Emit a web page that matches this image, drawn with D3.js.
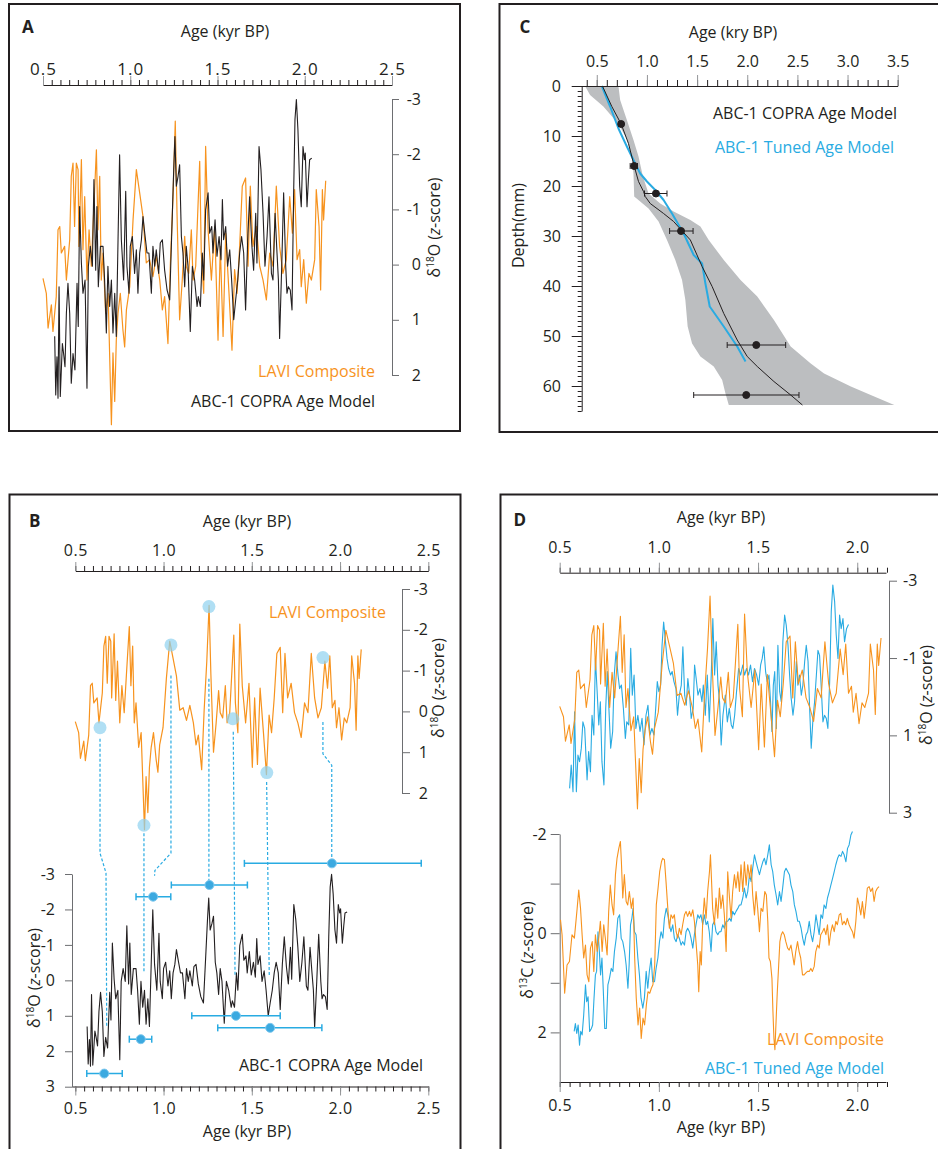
<!DOCTYPE html>
<html>
<head>
  <meta charset="utf-8">
  <script src="https://cdn.jsdelivr.net/npm/d3@7/dist/d3.min.js"></script>
  <style>
    body { margin: 0; background: #fff; }
    text { font-family: "Open Sans", "Noto Sans", sans-serif; }
  </style>
</head>
<body>
<script>
// ---------- tick labels ----------
var ageMajorAB = [0.5, 1.0, 1.5, 2.0, 2.5];
var ageMajorC = [0.5, 1.0, 1.5, 2.0, 2.5, 3.0, 3.5];
var ageMajorD = [0.5, 1.0, 1.5, 2.0];
var zTicksA = [-3, -2, -1, 0, 1, 2];
var zTicksB = [-3, -2, -1, 0, 1, 2, 3];
var zTicksD18 = [-3, -1, 1, 3];
var zTicksD13 = [-2, -1, 0, 1, 2];
var depthMajor = [0, 10, 20, 30, 40, 50, 60];

// ---------- LAVI composite d18O (age kyr BP, z-score) ----------
var lavi18O = [[0.5,0.25],[0.519,0.52],[0.529,1.15],[0.548,0.73],[0.557,1.21],[0.576,0.58],[0.586,-0.63],[0.596,-0.69],[0.605,-0.21],[0.624,-0.33],[0.634,0.28],[0.653,-0.45],[0.662,-1.6],[0.672,-1.84],[0.681,-0.69],[0.691,-1.84],[0.701,-1.72],[0.706,-0.33],[0.72,-1.9],[0.729,-0.27],[0.739,-1.23],[0.752,0.28],[0.764,-0.63],[0.777,0.03],[0.79,-0.93],[0.806,-2.08],[0.815,-0.63],[0.825,-1.6],[0.834,0.28],[0.844,-0.21],[0.859,0.88],[0.873,0.52],[0.892,2.9],[0.901,1.6],[0.911,2.48],[0.92,1.37],[0.93,0.88],[0.943,0.52],[0.958,1.18],[0.968,1.49],[0.978,0.82],[0.997,0.4],[1.016,-0.81],[1.035,-1.72],[1.054,-1.3],[1.073,-0.87],[1.092,-0.03],[1.111,-0.09],[1.13,0.22],[1.149,-0.15],[1.169,0.28],[1.184,0.82],[1.197,0.58],[1.216,1.43],[1.23,-0.03],[1.245,-1.23],[1.258,-2.6],[1.268,-0.93],[1.283,1.0],[1.298,0.28],[1.312,-0.51],[1.321,0.03],[1.335,0.16],[1.35,-0.63],[1.36,0.28],[1.375,0.03],[1.398,-1.87],[1.407,-0.21],[1.421,0.52],[1.432,-2.14],[1.446,-0.63],[1.465,0.28],[1.484,-0.69],[1.503,1.37],[1.516,-0.33],[1.532,1.3],[1.547,-0.57],[1.566,0.52],[1.583,1.55],[1.598,0.09],[1.612,0.52],[1.627,-0.33],[1.642,-1.42],[1.661,-1.57],[1.675,0.03],[1.688,-1.42],[1.703,-0.33],[1.723,-0.69],[1.742,0.03],[1.761,0.28],[1.78,0.64],[1.799,-0.21],[1.818,0.03],[1.837,-1.42],[1.856,-0.33],[1.875,0.16],[1.894,-0.09],[1.914,-1.23],[1.929,-0.57],[1.942,-1.36],[1.956,-0.09],[1.971,-0.27],[1.98,0.4],[1.994,-0.09],[2.009,0.7],[2.024,0.16],[2.038,0.28],[2.057,-0.09],[2.066,-1.36],[2.082,-0.69],[2.091,0.46],[2.101,-1.36],[2.108,-0.81],[2.12,-1.52]];

// ---------- ABC-1 d18O on the COPRA age model ----------
var copra18O = [[0.567,1.3],[0.573,2.36],[0.58,1.67],[0.586,2.42],[0.592,0.4],[0.599,2.39],[0.611,1.43],[0.618,1.61],[0.626,1.85],[0.634,0.88],[0.643,0.34],[0.653,0.88],[0.662,2.15],[0.672,1.61],[0.683,1.91],[0.695,0.34],[0.702,1.12],[0.71,-1.05],[0.72,-0.03],[0.729,0.52],[0.741,0.28],[0.752,2.24],[0.76,0.03],[0.771,-0.33],[0.783,0.03],[0.792,-1.54],[0.802,0.1],[0.809,-1.05],[0.817,0.4],[0.829,-0.33],[0.844,-0.33],[0.853,0.28],[0.863,1.24],[0.872,0.03],[0.882,0.76],[0.892,0.28],[0.901,1.24],[0.911,0.52],[0.92,1.3],[0.93,-0.45],[0.939,-1.99],[0.949,-0.45],[0.962,0.28],[0.974,-1.33],[0.981,0.03],[0.993,0.52],[1.0,-0.33],[1.012,-0.51],[1.025,0.16],[1.035,-0.27],[1.044,0.52],[1.054,-0.21],[1.064,-0.45],[1.073,-0.87],[1.083,-0.57],[1.096,-0.21],[1.107,-0.21],[1.121,0.52],[1.13,-0.33],[1.14,0.03],[1.149,-0.27],[1.163,0.16],[1.172,-0.39],[1.184,-0.45],[1.197,0.1],[1.211,0.46],[1.226,0.64],[1.239,-0.69],[1.249,-1.72],[1.256,-2.32],[1.264,-1.42],[1.274,-1.6],[1.283,-1.81],[1.293,-0.51],[1.302,-0.21],[1.312,0.4],[1.321,-0.33],[1.331,0.03],[1.344,1.21],[1.356,0.03],[1.369,0.28],[1.383,0.76],[1.39,0.58],[1.402,0.76],[1.413,-0.21],[1.421,0.28],[1.432,-0.99],[1.446,-1.3],[1.455,-0.57],[1.467,-0.69],[1.474,-0.21],[1.486,-0.81],[1.497,-0.15],[1.509,-0.51],[1.52,-0.09],[1.528,-1.18],[1.535,-0.45],[1.547,-0.69],[1.558,0.03],[1.57,-0.27],[1.581,0.28],[1.593,1.0],[1.604,0.64],[1.616,0.28],[1.627,-0.21],[1.638,-0.51],[1.65,-0.21],[1.661,0.82],[1.673,-0.45],[1.684,-1.23],[1.696,-0.39],[1.707,0.1],[1.719,-0.93],[1.726,-0.03],[1.738,-2.14],[1.749,-1.72],[1.761,-0.93],[1.772,0.03],[1.784,-0.51],[1.795,-1.23],[1.809,0.16],[1.818,0.28],[1.83,-0.93],[1.841,-0.21],[1.849,0.28],[1.856,1.34],[1.868,0.03],[1.879,-1.3],[1.891,0.03],[1.898,0.52],[1.906,0.4],[1.917,0.46],[1.927,0.82],[1.936,-1.23],[1.944,-2.63],[1.952,-2.99],[1.961,-2.44],[1.971,-1.42],[1.98,-1.05],[1.99,-2.14],[1.998,-1.9],[2.003,-2.02],[2.013,-1.05],[2.021,-1.54],[2.028,-1.9],[2.04,-1.93]];

// ---------- ABC-1 d18O on the tuned age model ----------
var tuned18O = [[0.55,2.37],[0.558,1.77],[0.567,2.46],[0.575,0.39],[0.584,2.46],[0.592,1.51],[0.6,1.68],[0.609,1.33],[0.617,0.65],[0.626,0.82],[0.638,2.15],[0.646,1.42],[0.655,1.94],[0.663,0.48],[0.672,0.99],[0.68,-0.99],[0.688,-0.21],[0.697,0.73],[0.705,0.13],[0.713,1.68],[0.723,2.28],[0.732,0.3],[0.74,-0.65],[0.748,0.3],[0.757,1.33],[0.767,0.9],[0.775,-0.56],[0.784,-1.16],[0.794,-0.56],[0.802,-0.21],[0.811,-0.3],[0.821,0.3],[0.831,1.08],[0.838,0.65],[0.848,0.73],[0.858,-1.25],[0.866,-0.04],[0.875,-0.56],[0.884,0.82],[0.894,0.48],[0.905,0.9],[0.915,0.56],[0.925,1.25],[0.935,0.48],[0.945,0.22],[0.955,0.99],[0.965,0.82],[0.975,0.99],[0.985,0.22],[0.992,-0.39],[1.0,-0.13],[1.009,-0.3],[1.016,-1.33],[1.024,-1.93],[1.032,-1.5],[1.041,-0.99],[1.049,-0.73],[1.059,-0.56],[1.067,-0.65],[1.076,-0.39],[1.086,-0.21],[1.094,0.48],[1.103,-0.04],[1.113,-0.3],[1.121,-1.29],[1.13,-0.04],[1.138,0.22],[1.146,-0.47],[1.155,-0.04],[1.163,0.56],[1.173,0.3],[1.18,-0.82],[1.188,-0.47],[1.197,-0.04],[1.207,-0.21],[1.217,0.13],[1.224,-0.3],[1.234,0.48],[1.244,-0.56],[1.254,0.65],[1.264,-0.56],[1.272,-2.02],[1.281,-0.56],[1.289,-1.42],[1.298,-0.3],[1.306,0.13],[1.314,1.25],[1.323,0.48],[1.335,-0.04],[1.345,0.65],[1.355,0.3],[1.365,0.73],[1.373,0.82],[1.382,0.48],[1.39,-0.04],[1.402,-0.73],[1.412,-0.56],[1.423,-0.82],[1.432,-0.56],[1.442,-0.73],[1.452,-0.56],[1.462,-0.82],[1.472,-0.39],[1.482,-0.73],[1.493,-0.56],[1.503,-0.3],[1.513,-0.82],[1.521,-0.99],[1.529,-1.29],[1.538,-0.65],[1.546,-0.39],[1.555,-0.56],[1.563,0.13],[1.57,0.9],[1.577,-0.3],[1.584,-0.65],[1.592,0.82],[1.6,-1.33],[1.609,-0.13],[1.617,0.13],[1.625,-1.42],[1.634,-2.11],[1.642,-1.85],[1.651,-1.33],[1.659,-0.56],[1.667,0.04],[1.676,0.48],[1.684,0.13],[1.693,-0.91],[1.701,-0.3],[1.709,-0.56],[1.718,-0.04],[1.726,-0.3],[1.735,-0.91],[1.743,-1.33],[1.752,-0.91],[1.76,0.3],[1.768,1.33],[1.777,0.56],[1.785,0.13],[1.794,-0.56],[1.802,-1.2],[1.81,-1.07],[1.818,-0.3],[1.827,0.65],[1.835,0.48],[1.844,0.56],[1.852,0.82],[1.861,-0.39],[1.869,-2.2],[1.877,-2.89],[1.886,-2.46],[1.894,-1.6],[1.903,-0.99],[1.911,-2.11],[1.919,-1.76],[1.928,-2.02],[1.936,-1.42],[1.946,-1.76],[1.956,-1.87]];

// ---------- d13C ----------
var lavi13C = [[0.504,-0.27],[0.512,0.03],[0.525,1.21],[0.537,0.64],[0.549,0.57],[0.562,0.03],[0.574,0.1],[0.588,-0.5],[0.596,-0.87],[0.605,-0.5],[0.613,0.03],[0.621,0.5],[0.63,0.24],[0.638,0.84],[0.647,0.98],[0.655,0.3],[0.664,0.17],[0.672,0.77],[0.68,0.03],[0.689,0.37],[0.697,0.1],[0.705,-0.24],[0.714,0.37],[0.722,-0.17],[0.73,0.1],[0.739,0.44],[0.747,-0.44],[0.755,-0.97],[0.764,-0.57],[0.772,-0.37],[0.781,-1.18],[0.789,-1.51],[0.798,-1.71],[0.806,-1.85],[0.811,-1.44],[0.818,-0.71],[0.826,-1.18],[0.835,-0.64],[0.843,-0.57],[0.851,-0.84],[0.861,-0.5],[0.87,-0.71],[0.878,0.5],[0.886,1.31],[0.895,1.85],[0.903,1.51],[0.911,2.12],[0.92,1.71],[0.928,1.85],[0.937,1.44],[0.945,1.18],[0.954,1.21],[0.962,1.11],[0.97,1.04],[0.979,0.64],[0.987,-0.57],[0.996,-0.91],[1.004,-1.24],[1.013,-1.44],[1.019,-1.51],[1.028,-1.48],[1.036,-1.04],[1.045,-0.5],[1.053,-0.1],[1.061,-0.37],[1.07,-0.3],[1.078,-0.37],[1.087,-0.03],[1.095,0.1],[1.103,-0.1],[1.112,0.03],[1.12,-0.17],[1.129,-0.37],[1.137,-0.44],[1.145,-0.34],[1.154,-0.44],[1.162,-0.34],[1.171,-0.47],[1.179,-0.24],[1.187,0.17],[1.196,0.64],[1.201,1.18],[1.208,0.37],[1.214,0.64],[1.221,-0.24],[1.229,-0.71],[1.238,-0.3],[1.246,-0.84],[1.255,-1.24],[1.26,-1.58],[1.265,-1.11],[1.271,-0.5],[1.28,-0.17],[1.288,-0.71],[1.297,-0.3],[1.305,-0.91],[1.313,-0.5],[1.322,-0.77],[1.33,-0.37],[1.339,0.37],[1.347,-1.24],[1.356,-0.71],[1.364,-0.3],[1.372,-0.84],[1.381,-1.18],[1.389,-0.91],[1.398,-1.24],[1.406,-0.84],[1.414,-1.38],[1.423,-0.84],[1.431,-1.44],[1.44,-0.97],[1.448,-1.38],[1.457,-1.11],[1.465,-1.38],[1.473,-0.77],[1.482,-0.37],[1.49,-0.84],[1.498,-0.5],[1.507,-0.03],[1.515,-0.5],[1.524,-0.44],[1.534,-0.84],[1.542,-0.77],[1.549,-0.24],[1.555,0.5],[1.562,0.57],[1.57,0.91],[1.575,1.58],[1.58,2.12],[1.585,2.35],[1.59,1.85],[1.597,1.18],[1.604,0.64],[1.61,0.17],[1.617,0.03],[1.624,-0.03],[1.632,0.03],[1.64,0.17],[1.649,0.3],[1.657,0.34],[1.666,0.24],[1.674,0.44],[1.682,0.64],[1.69,0.37],[1.699,0.17],[1.707,0.37],[1.715,0.5],[1.724,0.84],[1.732,0.84],[1.741,0.8],[1.749,0.77],[1.758,0.77],[1.766,0.71],[1.774,0.77],[1.783,0.67],[1.791,0.37],[1.8,0.24],[1.808,0.3],[1.816,0.03],[1.825,-0.03],[1.833,-0.1],[1.842,0.03],[1.85,-0.17],[1.858,0.24],[1.867,-0.03],[1.875,-0.17],[1.884,-0.03],[1.892,-0.24],[1.9,-0.17],[1.909,-0.37],[1.917,-0.4],[1.925,-0.17],[1.934,-0.24],[1.942,-0.17],[1.95,-0.3],[1.959,-0.17],[1.967,-0.1],[1.976,-0.03],[1.984,0.1],[1.993,-0.24],[2.001,-0.71],[2.009,-0.57],[2.018,-0.37],[2.026,-0.64],[2.035,-0.3],[2.043,-0.57],[2.051,-0.91],[2.06,-0.94],[2.068,-0.84],[2.077,-0.91],[2.085,-0.64],[2.093,-0.84],[2.102,-0.91],[2.11,-0.94]];

var tuned13C = [[0.573,1.98],[0.579,1.82],[0.586,2.02],[0.593,1.85],[0.6,2.26],[0.606,1.98],[0.613,2.05],[0.621,1.65],[0.63,1.04],[0.636,1.38],[0.643,1.28],[0.651,1.98],[0.66,1.92],[0.666,1.85],[0.673,1.31],[0.68,0.84],[0.686,0.77],[0.693,-0.03],[0.7,0.37],[0.706,0.84],[0.713,0.5],[0.72,1.18],[0.727,1.92],[0.735,1.92],[0.743,1.04],[0.751,0.91],[0.76,0.71],[0.768,0.77],[0.776,0.37],[0.785,0.1],[0.793,-0.3],[0.802,-0.37],[0.81,0.1],[0.818,0.17],[0.827,0.37],[0.835,0.64],[0.844,1.11],[0.85,0.64],[0.857,-0.17],[0.864,-0.3],[0.87,-0.5],[0.877,-0.03],[0.885,0.03],[0.894,0.5],[0.902,0.84],[0.91,1.31],[0.919,1.51],[0.927,1.31],[0.936,0.77],[0.944,1.11],[0.952,0.77],[0.961,0.5],[0.969,0.98],[0.978,0.98],[0.986,0.71],[0.995,0.5],[1.003,0.17],[1.011,-0.03],[1.02,0.1],[1.028,-0.3],[1.037,-0.5],[1.045,-0.37],[1.053,-0.17],[1.061,-0.03],[1.07,-0.17],[1.078,0.1],[1.087,0.17],[1.095,0.03],[1.103,0.1],[1.112,0.24],[1.12,0.17],[1.129,0.24],[1.137,-0.03],[1.145,-0.1],[1.154,-0.03],[1.162,0.1],[1.171,0.3],[1.179,0.03],[1.187,-0.17],[1.196,-0.37],[1.204,-0.3],[1.212,-0.37],[1.221,-0.17],[1.229,-0.37],[1.238,-0.17],[1.246,-0.24],[1.254,-0.03],[1.263,0.37],[1.271,-0.17],[1.28,-0.24],[1.288,-0.03],[1.297,0.03],[1.305,-0.03],[1.313,-0.03],[1.322,-0.17],[1.33,-0.1],[1.339,-0.24],[1.347,-0.24],[1.356,-0.3],[1.364,-0.24],[1.372,-0.44],[1.381,-0.37],[1.389,-0.44],[1.398,-0.5],[1.406,-0.57],[1.414,-0.57],[1.423,-0.71],[1.431,-0.91],[1.44,-0.71],[1.448,-0.84],[1.457,-1.18],[1.465,-1.04],[1.473,-1.31],[1.482,-1.58],[1.49,-1.44],[1.498,-1.31],[1.507,-1.18],[1.515,-1.31],[1.524,-1.44],[1.532,-1.51],[1.54,-1.38],[1.549,-1.58],[1.557,-1.78],[1.566,-1.38],[1.574,-1.24],[1.582,-0.97],[1.591,-0.77],[1.599,-0.57],[1.608,-0.84],[1.616,-0.64],[1.624,-0.91],[1.633,-1.24],[1.641,-1.31],[1.65,-1.24],[1.658,-1.18],[1.666,-0.97],[1.675,-0.84],[1.683,-0.57],[1.691,-0.44],[1.7,-0.24],[1.708,-0.24],[1.717,-0.1],[1.725,0.1],[1.733,0.24],[1.742,0.03],[1.75,-0.03],[1.758,-0.24],[1.767,0.03],[1.775,0.17],[1.783,-0.03],[1.792,-0.37],[1.8,-0.17],[1.808,0.03],[1.817,-0.37],[1.825,-0.3],[1.833,-0.57],[1.842,-0.5],[1.85,-0.71],[1.859,-0.84],[1.867,-0.97],[1.876,-1.11],[1.884,-1.24],[1.892,-1.38],[1.901,-1.51],[1.909,-1.58],[1.918,-1.55],[1.926,-1.65],[1.934,-1.58],[1.943,-1.44],[1.951,-1.71],[1.959,-1.78],[1.968,-1.98],[1.976,-2.05]];

// ---------- B: tie points on LAVI, dashed links, U-Th ages on ABC-1 ----------
var tiePoints = [[0.64,0.4],[1.042,-1.63],[1.257,-2.57],[1.393,0.18],[1.585,1.5],[1.903,-1.32],[0.889,2.79]];
// vertices: [age, z, "t" = LAVI axis | "b" = ABC-1 axis]
var tieLinks = [
  [[0.640, 0.67, "t"], [0.640, -3.59, "b"], [0.674, -3.03, "b"], [0.678, 1.31, "b"]],
  [[0.889, -4.15, "b"], [0.889, -0.2, "b"]],
  [[1.042, -0.88, "t"], [1.042, -3.59, "b"], [0.951, -3.1, "b"], [0.949, -2.95, "b"]],
  [[1.257, -0.8, "t"], [1.257, -2.78, "b"]],
  [[1.395, 0.5, "t"], [1.405, -0.1, "b"]],
  [[1.584, 1.73, "t"], [1.599, -0.1, "b"]],
  [[1.903, 0.26, "t"], [1.903, 1.04, "t"], [1.953, 1.32, "t"], [1.953, -3.4, "b"]]
];
// [age, z, lower age, upper age]
var uthB = [[0.664,2.63,0.565,0.766],[0.871,1.66,0.806,0.933],[0.941,-2.36,0.844,1.041],[1.26,-2.69,1.044,1.475],[1.41,1.0,1.16,1.661],[1.604,1.34,1.307,1.897],[1.954,-3.3,1.458,2.46]];

// ---------- C: age-depth model ----------
var bandLeft = [[0.383,0],[0.433,1.8],[0.566,4.1],[0.716,7.6],[0.8,10.6],[0.85,14.1],[0.866,17.5],[0.873,22.1],[0.933,23.1],[1.016,24.5],[1.116,27.1],[1.2,30.8],[1.283,34.8],[1.35,38.8],[1.383,42.8],[1.406,48.1],[1.45,51.5],[1.533,54.1],[1.666,56.1],[1.75,58.8],[1.783,61.5],[1.816,63.8]];
var bandRight = [[0.716,0],[0.733,2.8],[0.8,6.8],[0.866,10.8],[0.916,14.1],[0.96,18.1],[1.016,21.5],[1.133,23.5],[1.266,25.1],[1.433,26.8],[1.533,28.1],[1.616,30.8],[1.766,34.8],[1.933,38.8],[2.1,42.1],[2.266,46.8],[2.433,52.1],[2.633,55.5],[2.766,57.5],[3.033,60.1],[3.266,62.1],[3.466,63.8]];
var copraModel = [[0.556,0],[0.65,4.1],[0.743,7.6],[0.816,11.5],[0.873,16],[0.916,19.1],[0.966,21.1],[0.983,22.1],[1.033,23.5],[1.166,25.5],[1.266,27.1],[1.433,30.8],[1.55,36.1],[1.65,40.1],[1.766,45.5],[1.9,50.8],[2.0,54.1],[2.1,56.1],[2.266,59.1],[2.433,61.8],[2.55,63.8]];
var tunedModel = [[0.55,0],[0.633,4.1],[0.716,8.5],[0.8,12.1],[0.883,15.5],[0.933,17.5],[1.0,19.1],[1.083,20.8],[1.166,22.8],[1.25,25.5],[1.366,29.5],[1.466,33.8],[1.55,35.5],[1.583,39.5],[1.626,44.1],[1.766,48.1],[1.9,52.1],[1.983,55.1]];
// [age, depth, lower age, upper age]
var uthC = [[0.743,7.6,0.716,0.766],[0.873,16.0,0.833,0.906],[1.09,21.5,0.976,1.2],[1.34,29.0,1.226,1.46],[2.09,51.8,1.8,2.383],[1.99,61.8,1.466,2.516]];

// ---------- drawing ----------
var width = 938, height = 1149;
var ink = "#231f20", orange = "#f7931e", blue = "#29abe2", axisGray = "#6d6e71", majorGray = "#939598";
var fmt1 = d3.format(".1f");

var svg = d3.select("body").append("svg")
  .attr("width", width)
  .attr("height", height);

function frame(x, y, w, h) {
  svg.append("rect").attr("x", x).attr("y", y).attr("width", w).attr("height", h)
    .attr("fill", "none").attr("stroke", ink).attr("stroke-width", 2);
}

function txt(x, y, s, o) {
  o = o || {};
  return svg.append("text").attr("x", x).attr("y", y)
    .attr("text-anchor", o.anchor || "start")
    .attr("font-size", o.size || 16)
    .attr("font-weight", o.weight || "normal")
    .attr("fill", o.color || ink)
    .text(s);
}

function zLabel(cx, cy, iso) {
  var t = svg.append("text")
    .attr("transform", "translate(" + cx + "," + cy + ") rotate(-90)")
    .attr("text-anchor", "middle").attr("dy", "0.35em")
    .attr("font-size", 16).attr("fill", ink);
  t.append("tspan").text("δ");
  t.append("tspan").attr("font-size", 10).attr("dy", -6).text(iso);
  t.append("tspan").attr("dy", 6).text(iso === "18" ? "O (" : "C (");
  t.append("tspan").attr("font-style", "italic").text("z");
  t.append("tspan").text("-score)");
}

// age axis along top or bottom with minor + labelled major ticks
function ageAxis(orient, scale, y, minor, major, minorLen, majorLen, pad, fs, ls) {
  var mk = orient === "top" ? d3.axisTop : d3.axisBottom;
  svg.append("g").attr("transform", "translate(0," + y + ")")
    .call(mk(scale).tickValues(minor).tickSize(minorLen).tickSizeOuter(0).tickFormat(""))
    .call(g => g.select(".domain").attr("stroke", ink))
    .call(g => g.selectAll(".tick line").attr("stroke", ink));
  svg.append("g").attr("transform", "translate(0," + y + ")")
    .call(mk(scale).tickValues(major).tickSize(majorLen).tickPadding(pad).tickFormat(fmt1))
    .call(g => g.select(".domain").remove())
    .call(g => g.selectAll(".tick line").attr("stroke", majorGray))
    .call(g => g.selectAll("text").attr("font-size", fs).attr("fill", ink)
      .style("letter-spacing", ls + "px"));
}

function zAxis(orient, scale, x, ticks, len, labelX, anchor, fmt) {
  var mk = orient === "right" ? d3.axisRight : d3.axisLeft;
  svg.append("g").attr("transform", "translate(" + x + ",0)")
    .call(mk(scale).tickValues(ticks).tickSize(len).tickSizeOuter(0).tickFormat(fmt || String))
    .call(g => g.select(".domain").attr("stroke", axisGray))
    .call(g => g.selectAll(".tick line").attr("stroke", axisGray))
    .call(g => g.selectAll("text").attr("x", labelX).attr("text-anchor", anchor)
      .attr("font-size", 16).attr("fill", ink));
}

function series(data, x, y, color, w) {
  svg.append("path").datum(data)
    .attr("fill", "none").attr("stroke", color).attr("stroke-width", w)
    .attr("stroke-linejoin", "round")
    .attr("d", d3.line().x(d => x(d[0])).y(d => y(d[1])));
}

function errorBars(data, x, y, color, barW, cap, r, dotFill, dotStroke) {
  var g = svg.append("g");
  var e = g.selectAll("g").data(data).join("g");
  e.append("line").attr("x1", d => x(d[2])).attr("x2", d => x(d[3]))
    .attr("y1", d => y(d[1])).attr("y2", d => y(d[1]))
    .attr("stroke", color).attr("stroke-width", barW);
  e.append("line").attr("x1", d => x(d[2])).attr("x2", d => x(d[2]))
    .attr("y1", d => y(d[1]) - cap).attr("y2", d => y(d[1]) + cap)
    .attr("stroke", color).attr("stroke-width", barW);
  e.append("line").attr("x1", d => x(d[3])).attr("x2", d => x(d[3]))
    .attr("y1", d => y(d[1]) - cap).attr("y2", d => y(d[1]) + cap)
    .attr("stroke", color).attr("stroke-width", barW);
  e.append("circle").attr("cx", d => x(d[0])).attr("cy", d => y(d[1])).attr("r", r)
    .attr("fill", dotFill).attr("stroke", dotStroke).attr("stroke-width", 1);
}

var minor05 = d3.range(0, 41).map(i => 0.5 + i * 0.05);

// ===== Panel A =====
frame(9, 4, 451, 427);
var xA = d3.scaleLinear().domain([0.5, 2.5]).range([43, 392]);
var yA = d3.scaleLinear().domain([-3, 2]).range([99, 375]);
txt(22, 33, "A", {size: 17, weight: "bold"});
txt(225, 36.5, "Age (kyr BP)", {anchor: "middle"});
ageAxis("top", xA, 85, minor05, ageMajorAB, 5, 9, 1, 17, 1);
zAxis("right", yA, 392, zTicksA, 7, 29, "end");
zLabel(434.5, 227.5, "18");
series(lavi18O, xA, yA, orange, 1.2);
series(copra18O, xA, yA, ink, 1.1);
txt(375, 377, "LAVI Composite", {anchor: "end", color: orange});
txt(375, 407, "ABC-1 COPRA Age Model", {anchor: "end"});

// ===== Panel B =====
frame(9.5, 494.5, 451, 700);
var xB = d3.scaleLinear().domain([0.5, 2.5]).range([75.3, 428.3]);
var xBlow = d3.scaleLinear().domain([0.48, 2.5]).range([xB(0.48), xB(2.5)]);
var yBt = d3.scaleLinear().domain([-3, 2]).range([589, 793]);
var yBb = d3.scaleLinear().domain([-3, 3]).range([874, 1086.7]);
txt(29, 526.5, "B", {size: 17, weight: "bold"});
txt(247, 527, "Age (kyr BP)", {anchor: "middle"});
ageAxis("top", xB, 571, minor05, ageMajorAB, 5, 9, 6.5, 16, 0.5);
zAxis("right", yBt, 402, zTicksA, 8, 26, "end");
zLabel(438.3, 688, "18");
series(lavi18O, xB, yBt, orange, 1.2);

svg.append("g").selectAll("path").data(tieLinks).join("path")
  .attr("fill", "none").attr("stroke", blue).attr("stroke-width", 1.2)
  .attr("stroke-dasharray", "3,2")
  .attr("d", d3.line().x(d => xB(d[0])).y(d => d[2] === "t" ? yBt(d[1]) : yBb(d[1])));

svg.append("g").selectAll("circle").data(tiePoints).join("circle")
  .attr("cx", d => xB(d[0])).attr("cy", d => yBt(d[1])).attr("r", 6.5)
  .attr("fill", "#8fd1f0").attr("fill-opacity", 0.7);
txt(386, 617.5, "LAVI Composite", {anchor: "end", color: orange});

ageAxis("bottom", xBlow, 1086.5, minor05, ageMajorAB, 5, 9, 6.7, 16, 0.5);
zAxis("left", yBb, 72, zTicksB, 7, -17, "end");
zLabel(34, 978, "18");
series(copra18O, xB, yBb, ink, 1.1);
errorBars(uthB, xB, yBb, blue, 1.5, 3.5, 4.5, "#3ba9e0", "#7cc7ee");
txt(247, 1137, "Age (kyr BP)", {anchor: "middle"});
txt(423, 1070.5, "ABC-1 COPRA Age Model", {anchor: "end"});

// ===== Panel C =====
frame(499.5, 4, 460, 428);
var xC = d3.scaleLinear().domain([0.25, 3.5]).range([571.7, 897.7]);
var yC = d3.scaleLinear().domain([0, 65]).range([86, 411]);
txt(519.5, 33, "C", {size: 17, weight: "bold"});
txt(733, 38, "Age (kry BP)", {anchor: "middle"});

var band = bandLeft.concat(bandRight.slice().reverse());
svg.append("path").datum(band)
  .attr("fill", "#bcbec0").attr("stroke", "none")
  .attr("d", d3.line().x(d => xC(d[0])).y(d => yC(d[1])));
series(tunedModel, xC, yC, blue, 2);
series(copraModel, xC, yC, ink, 1);
errorBars(uthC, xC, yC, ink, 1, 3, 3.5, ink, ink);

ageAxis("top", xC, 86, d3.range(4, 36).map(i => i / 10), ageMajorC, 6, 11, 7.7, 16, 0);
svg.append("g").attr("transform", "translate(581.7,0)")
  .call(d3.axisLeft(yC).tickValues(d3.range(0, 66)).tickSize(4).tickSizeOuter(0).tickFormat(""))
  .call(g => g.select(".domain").attr("stroke", ink))
  .call(g => g.selectAll(".tick line").attr("stroke", ink));
svg.append("g").attr("transform", "translate(581.7,0)")
  .call(d3.axisLeft(yC).tickValues(depthMajor).tickSize(10).tickPadding(10.7).tickFormat(String))
  .call(g => g.select(".domain").remove())
  .call(g => g.selectAll(".tick line").attr("stroke", ink))
  .call(g => g.selectAll("text").attr("font-size", 16).attr("fill", ink));
svg.append("text")
  .attr("transform", "translate(518,225.5) rotate(-90)")
  .attr("text-anchor", "middle").attr("dy", "0.35em")
  .attr("font-size", 16).attr("fill", ink).text("Depth(mm)");
txt(897, 118.5, "ABC-1 COPRA Age Model", {anchor: "end"});
txt(894, 153, "ABC-1 Tuned Age Model", {anchor: "end", color: blue});

// ===== Panel D =====
frame(500.5, 494.5, 500, 700);
var xD = d3.scaleLinear().domain([0.5, 2.145]).range([559.7, 886]);
var yD1 = d3.scaleLinear().domain([-3, 3]).range([580.7, 812.7]);
var yD2 = d3.scaleLinear().domain([-2, 3]).range([834, 1082]);
var minorD = d3.range(0, 34).map(i => 0.5 + i * 0.05);
txt(513.5, 526, "D", {size: 17, weight: "bold"});
txt(721, 523.3, "Age (kyr BP)", {anchor: "middle"});
ageAxis("top", xD, 572.7, minorD, ageMajorD, 5, 10, 9.4, 16, 0.5);
zAxis("right", yD1, 889, zTicksD18, 8, 14, "start");
zLabel(926.5, 695, "18");
series(tuned18O, xD, yD1, blue, 1.1);
series(lavi18O, xD, yD1, orange, 1.1);

ageAxis("bottom", xD, 1082, minorD, ageMajorD, 5, 10, 7.3, 16, 0.5);
zAxis("left", yD2, 559.7, zTicksD13, 9, -13, "end", d => (d % 2 === 0 ? String(d) : ""));
zLabel(527, 950, "13");
series(tuned13C, xD, yD2, blue, 1.1);
series(lavi13C, xD, yD2, orange, 1.1);
txt(721, 1132.7, "Age (kyr BP)", {anchor: "middle"});
txt(884, 1045, "LAVI Composite", {anchor: "end", color: orange});
txt(884, 1074, "ABC-1 Tuned Age Model", {anchor: "end", color: blue});
</script>
</body>
</html>
